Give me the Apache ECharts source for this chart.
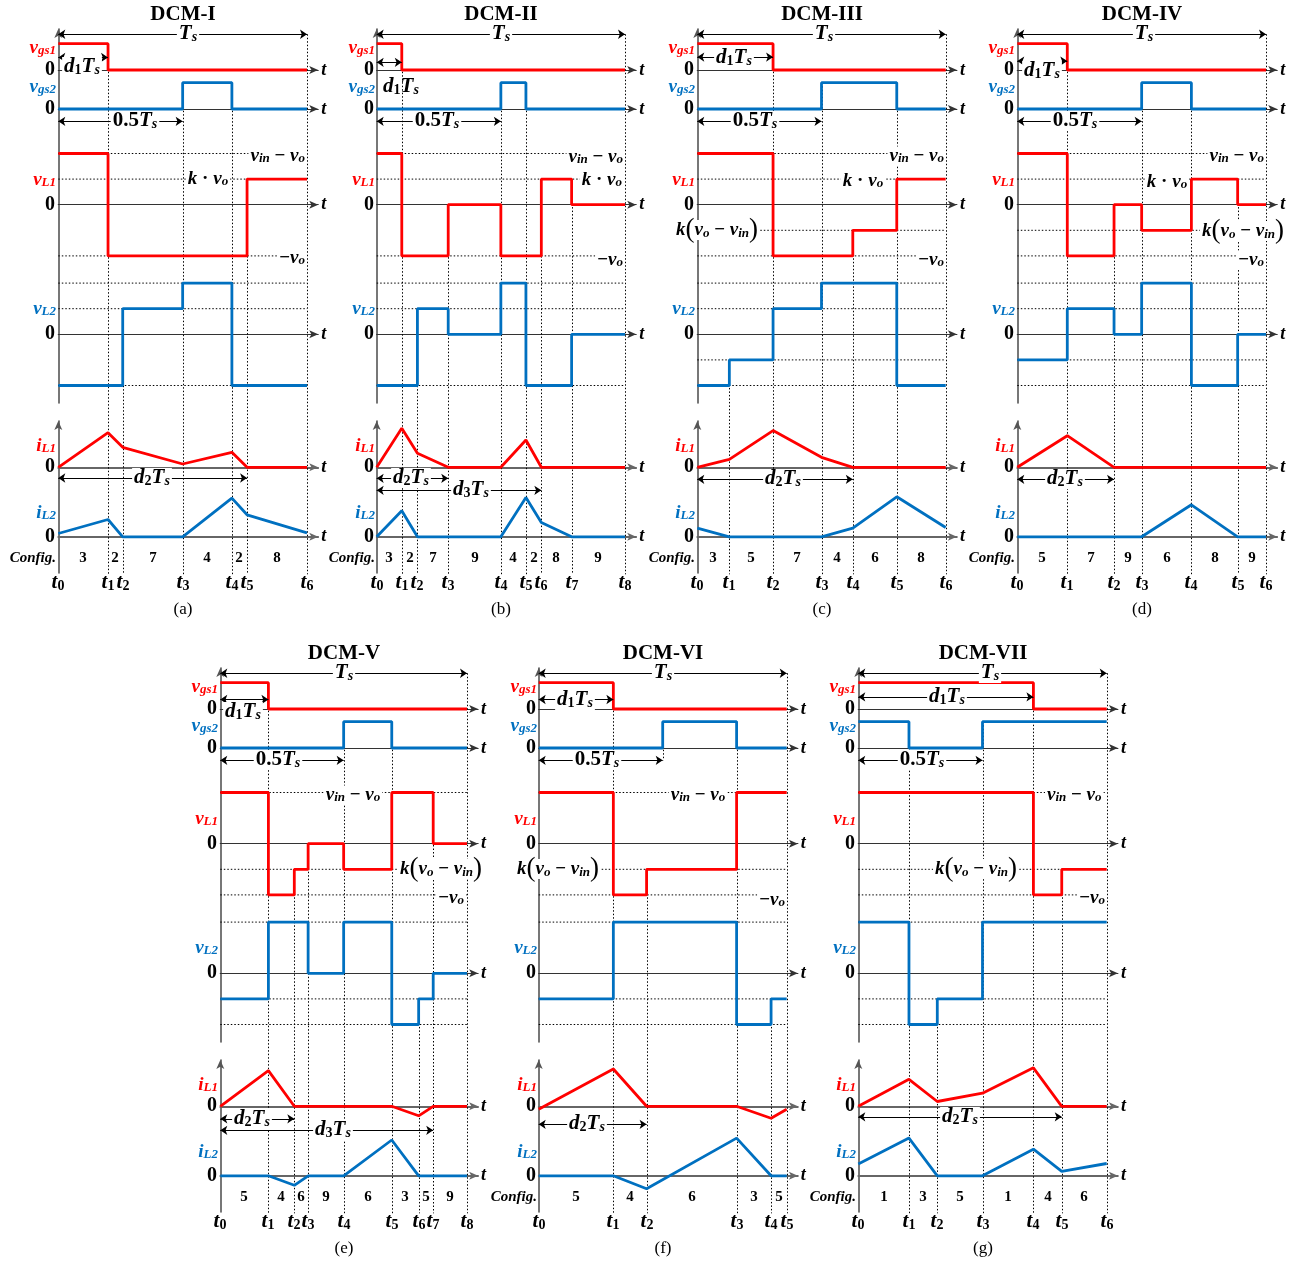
<!DOCTYPE html>
<html>
<head>
<meta charset="utf-8">
<script src="https://cdn.jsdelivr.net/npm/echarts@6/dist/echarts.min.js"></script>
<style>
html, body { margin: 0; padding: 0; background: #fff; }
#main { width: 1312px; height: 1263px; }
</style>
</head>
<body>
<div id="main"></div>
<script>
// panel names
const titles = ['DCM-I', 'DCM-II', 'DCM-III', 'DCM-IV', 'DCM-V', 'DCM-VI', 'DCM-VII'];
const tags = ['(a)', '(b)', '(c)', '(d)', '(e)', '(f)', '(g)'];

// time instants as fraction of Ts, gate on-intervals, inductor voltage levels per interval
// (2 = vin-vo, 1 = k*vo, -1 = k(vo-vin), -2 = -vo), currents at each instant, configs per interval
const tA = [0, 0.200, 0.259, 0.5, 0.698, 0.759, 1];
const gs1A = [[0, 0.200]];
const gs2A = [[0.5, 0.698]];
const vL1A = [2, -2, -2, -2, -2, 1];
const vL2A = [-2, -2, 1, 2, -2, -2];
const iL1A = [0, 3.46, 2.0, 0.33, 1.5, 0, 0];
const iL2A = [0.33, 1.73, 0, 0, 3.87, 2.2, 0.4];
const cfgA = [3, 2, 7, 4, 2, 8];

const tB = [0, 0.101, 0.164, 0.288, 0.5, 0.601, 0.663, 0.785, 1];
const gs1B = [[0, 0.101]];
const gs2B = [[0.5, 0.601]];
const vL1B = [2, -2, -2, 0, -2, -2, 1, 0];
const vL2B = [-2, -2, 1, 0, 2, -2, -2, 0];
const iL1B = [0, 3.9, 1.4, 0, 0, 2.73, 0, 0, 0];
const iL2B = [0, 2.6, 0, 0, 0, 3.93, 1.43, 0, 0];
const cfgB = [3, 2, 7, 9, 4, 2, 8, 9];

const tC = [0, 0.129, 0.305, 0.5, 0.626, 0.803, 1];
const gs1C = [[0, 0.305]];
const gs2C = [[0.5, 0.803]];
const vL1C = [2, 2, -2, -2, -1, 1];
const vL2C = [-2, -1, 1, 2, 2, -2];
const iL1C = [0, 0.8, 3.67, 1.0, 0, 0, 0];
const iL2C = [0.87, 0, 0, 0, 0.87, 4.0, 0.93];
const cfgC = [3, 5, 7, 4, 6, 8];

const tD = [0, 0.201, 0.389, 0.5, 0.700, 0.886, 1];
const gs1D = [[0, 0.201]];
const gs2D = [[0.5, 0.700]];
const vL1D = [2, -2, 0, -1, 1, 0];
const vL2D = [-1, 1, 0, 2, -2, 0];
const iL1D = [0, 3.16, 0, 0, 0, 0, 0];
const iL2D = [0, 0, 0, 0, 3.2, 0, 0];
const cfgD = [5, 7, 9, 6, 8, 9];

const tE = [0, 0.195, 0.300, 0.356, 0.5, 0.695, 0.804, 0.863, 1];
const gs1E = [[0, 0.195]];
const gs2E = [[0.5, 0.695]];
const vL1E = [2, -2, -1, 0, -1, 2, 2, 0];
const vL2E = [-1, 2, 2, 0, 2, -2, -1, 0];
const iL1E = [0, 3.57, 0, 0, 0, 0, -0.95, 0, 0];
const iL2E = [0, 0, -0.95, 0, 0, 3.58, 0, 0, 0];
const cfgE = [5, 4, 6, 9, 6, 3, 5, 9];

const tF = [0, 0.301, 0.435, 0.798, 0.937, 1];
const gs1F = [[0, 0.301]];
const gs2F = [[0.5, 0.798]];
const vL1F = [2, -2, -1, 2, 2];
const vL2F = [-1, 2, 2, -2, -1];
const iL1F = [-0.3, 3.73, 0, 0, -1.2, -0.3];
const iL2F = [0, 0, -1.3, 3.77, 0, 0];
const cfgF = [5, 4, 6, 3, 5];

const tG = [0, 0.204, 0.318, 0.5, 0.705, 0.819, 1];
const gs1G = [[0, 0.705]];
const gs2G = [[0, 0.204], [0.5, 1]];
const vL1G = [2, 2, 2, 2, -2, -1];
const vL2G = [2, -2, -1, 2, 2, 2];
const iL1G = [0, 2.7, 0.48, 1.31, 3.85, 0, 0];
const iL2G = [1.19, 3.77, 0, 0, 2.66, 0.44, 1.23];
const cfgG = [1, 3, 5, 1, 4, 6];

// ---- layout ----
const RED = '#ff0000', BLUE = '#0070c0';
const FF = '"Liberation Serif","Times New Roman",serif';
const XMAX = 1.045;
const ROW_DY = 639;
const TS_LVL = 1.36;
const HALF_LVL = -0.47;
const TRACE = {
  gs1: { zero: 70, unit: 26.3, min: -0.9, max: 1.45, color: RED },
  gs2: { zero: 109, unit: 26.3, min: -0.65, max: 1, color: BLUE },
  vL1: { zero: 204.7, unit: 25.6, min: -2, max: 2, color: RED },
  vL2: { zero: 334.3, unit: 25.6, min: -2, max: 2, color: BLUE },
  iL1: { zero: 467.3, unit: 10, min: -2.6, max: 4, color: RED },
  iL2: { zero: 536.8, unit: 10, min: -1.6, max: 4.2, color: BLUE }
};
const FRAMES = [[29, 403], [421, 573]];

const panels = [
  { x0: 58.3, w: 248.7, row: 0, t: tA, gs1: gs1A, gs2: gs2A, vL1: vL1A, vL2: vL2A, iL1: iL1A, iL2: iL2A, cfg: cfgA,
    d1: { lvl: 0.48, lx: 0.097, ly: 0.1, bg: true }, half: 0.31, ts: 0.52, cfgLabel: true,
    d2: { end: 5, lvl: -1.07, lx: 0.378 },
    notes: [['vin', 1, 1.92, 'right'], ['kvo', 0.6, 1.0, 'center'], ['mvo', 1, -2.1, 'right']] },
  { x0: 376.7, w: 248.3, row: 0, t: tB, gs1: gs1B, gs2: gs2B, vL1: vL1B, vL2: vL2B, iL1: iL1B, iL2: iL2B, cfg: cfgB,
    d1: { lvl: 0.29, lx: 0.098, ly: -0.65, bg: false }, half: 0.243, ts: 0.5, cfgLabel: true,
    d2: { end: 3, lvl: -1.1, lx: 0.138 }, d3: { end: 6, lvl: -2.3, lx: 0.38 },
    notes: [['vin', 1, 1.85, 'right'], ['kvo', 0.995, 0.95, 'right'], ['mvo', 1, -2.15, 'right']] },
  { x0: 697.3, w: 248.4, row: 0, t: tC, gs1: gs1C, gs2: gs2C, vL1: vL1C, vL2: vL2C, iL1: iL1C, iL2: iL2C, cfg: cfgC,
    d1: { lvl: 0.49, lx: 0.146, ly: 0.45, bg: true }, half: 0.232, ts: 0.51, cfgLabel: true,
    d2: { end: 4, lvl: -1.2, lx: 0.346 },
    notes: [['vin', 1, 1.92, 'right'], ['kvo', 0.667, 0.92, 'center'], ['kvin', 0.081, -1.0, 'center'], ['mvo', 1, -2.15, 'right']] },
  { x0: 1017.3, w: 248.7, row: 0, t: tD, gs1: gs1D, gs2: gs2D, vL1: vL1D, vL2: vL2D, iL1: iL1D, iL2: iL2D, cfg: cfgD,
    d1: { lvl: 0.34, lx: 0.098, ly: -0.05, bg: true }, half: 0.23, ts: 0.51, cfgLabel: true,
    d2: { end: 2, lvl: -1.2, lx: 0.19 },
    notes: [['vin', 1, 1.92, 'right'], ['kvo', 0.6, 0.9, 'center'], ['kvin', 0.736, -1.03, 'left'], ['mvo', 1, -2.15, 'right']] },
  { x0: 220.3, w: 246.7, row: 1, t: tE, gs1: gs1E, gs2: gs2E, vL1: vL1E, vL2: vL2E, iL1: iL1E, iL2: iL2E, cfg: cfgE,
    d1: { lvl: 0.36, lx: 0.093, ly: -0.11, bg: true }, half: 0.234, ts: 0.5, cfgLabel: false,
    d2: { end: 2, lvl: -1.25, lx: 0.13 }, d3: { end: 7, lvl: -2.4, lx: 0.457 },
    notes: [['vin', 0.537, 1.9, 'center'], ['kvin', 0.72, -1.0, 'left'], ['mvo', 0.995, -2.12, 'right']] },
  { x0: 538.7, w: 248, row: 1, t: tF, gs1: gs1F, gs2: gs2F, vL1: vL1F, vL2: vL2F, iL1: iL1F, iL2: iL2F, cfg: cfgF,
    d1: { lvl: 0.36, lx: 0.147, ly: 0.36, bg: true }, half: 0.235, ts: 0.5, cfgLabel: true,
    d2: { end: 2, lvl: -1.8, lx: 0.195 },
    notes: [['vin', 0.644, 1.9, 'center'], ['kvin', 0.078, -1.0, 'center'], ['mvo', 1, -2.2, 'right']] },
  { x0: 858.3, w: 248.4, row: 1, t: tG, gs1: gs1G, gs2: gs2G, vL1: vL1G, vL2: vL2G, iL1: iL1G, iL2: iL2G, cfg: cfgG,
    d1: { lvl: 0.46, lx: 0.356, ly: 0.46, bg: true }, half: 0.255, ts: 0.53, cfgLabel: true,
    d2: { end: 5, lvl: -1.05, lx: 0.409 },
    notes: [['vin', 0.752, 1.9, 'left'], ['kvin', 0.473, -1.0, 'center'], ['mvo', 1, -2.12, 'right']] }
];

// ---- rich text ----
const tok = (size, italic, bold, extra) => Object.assign({
  fontFamily: FF, fontSize: size, fontStyle: italic ? 'italic' : 'normal', fontWeight: bold ? 'bold' : 'normal'
}, extra || {});
const RICH = {
  i: tok(19, true, true, { lineHeight: 19 }),
  is: tok(13, true, true, { verticalAlign: 'bottom', lineHeight: 8 }),
  n: tok(19, false, true, { lineHeight: 19 }),
  I: tok(21, true, true, { lineHeight: 20 }),
  IS: tok(14, true, true, { verticalAlign: 'bottom', lineHeight: 9 }),
  N: tok(21, false, true, { lineHeight: 20 }),
  NS: tok(14, false, true, { verticalAlign: 'bottom', lineHeight: 9 }),
  p: tok(27, false, false, { lineHeight: 20 }),
  z: tok(20, false, true, { lineHeight: 20 }),
  t: tok(21, true, true, { lineHeight: 21 }),
  ts: tok(14, false, true, { verticalAlign: 'bottom', lineHeight: 9 }),
  c: tok(15, false, true),
  ci: tok(15, true, true),
  h: tok(21, false, true),
  g: tok(17, false, false)
};
const S = {
  gs1: '{i|v}{is|gs1}', gs2: '{i|v}{is|gs2}', vL1: '{i|v}{is|L1}', vL2: '{i|v}{is|L2}',
  iL1: '{i|i}{is|L1}', iL2: '{i|i}{is|L2}', zero: '{z|0}',
  Ts: '{I|T}{IS|s}', d1: '{I|d}{NS|1}{I|T}{IS|s}', d2: '{I|d}{NS|2}{I|T}{IS|s}', d3: '{I|d}{NS|3}{I|T}{IS|s}',
  half: '{N|0.5}{I|T}{IS|s}',
  vin: '{i|v}{is|in}{n| − }{i|v}{is|o}', kvo: '{i|k}{n| · }{i|v}{is|o}', mvo: '{n|−}{i|v}{is|o}',
  kvin: '{i|k}{p|(}{i|v}{is|o}{n| − }{i|v}{is|in}{p|)}'
};

// ---- builders ----
function steps(t, lv) {
  const d = [];
  lv.forEach((v, i) => { d.push([t[i], v], [t[i + 1], v]); });
  return d;
}
function pulses(on) {
  const d = [];
  let x = 0;
  on.forEach(([a, b]) => {
    if (a > x) d.push([x, 0], [a, 0]);
    d.push([a, 1], [b, 1]);
    x = b;
  });
  if (x < 1) d.push([x, 0], [1, 0]);
  return d;
}
function arrows(list) {
  return {
    silent: true, animation: false, symbol: ['arrow', 'arrow'], symbolSize: 7,
    label: { show: false }, emphasis: { disabled: true },
    lineStyle: { color: '#000', width: 1, type: 'solid' },
    data: list.map(([x1, lvl]) => [{ coord: [0, lvl] }, { coord: [x1, lvl] }])
  };
}

const grids = [], xAxes = [], yAxes = [], series = [];

panels.forEach((p, pi) => {
  const dy = p.row * ROW_DY;
  p.G = {};
  Object.keys(TRACE).forEach(k => {
    const tr = TRACE[k];
    const g = grids.length;
    const cur = k[0] === 'i';
    grids.push({ left: p.x0, top: tr.zero - tr.max * tr.unit + dy, width: p.w * XMAX, height: (tr.max - tr.min) * tr.unit });
    xAxes.push({
      gridIndex: g, type: 'value', min: 0, max: XMAX,
      axisLine: { show: true, onZero: true, symbol: ['none', 'arrow'], symbolSize: [6, 9],
        lineStyle: { color: cur ? '#666' : '#333', width: cur ? 1.8 : 1.2 } },
      axisTick: { show: false }, axisLabel: { show: false }, splitLine: { show: false },
      name: 't', nameLocation: 'end', nameGap: 3,
      nameTextStyle: { fontFamily: FF, fontSize: 18, fontStyle: 'italic', fontWeight: 'bold', color: '#000' }
    });
    yAxes.push({ gridIndex: g, type: 'value', min: tr.min, max: tr.max, show: false });
    p.G[k] = g;
  });
  FRAMES.forEach(([a, b]) => {
    const g = grids.length;
    grids.push({ left: p.x0, top: a + dy, width: p.w * XMAX, height: b - a });
    xAxes.push({ gridIndex: g, type: 'value', min: 0, max: XMAX, show: false });
    yAxes.push({
      gridIndex: g, type: 'value', min: 0, max: 1,
      axisLine: { show: true, onZero: false, symbol: ['none', 'arrow'], symbolSize: [6, 9], lineStyle: { color: '#555', width: 1.6 } },
      axisTick: { show: false }, axisLabel: { show: false }, splitLine: { show: false }
    });
  });

  const wave = (k, data, extra) => Object.assign({
    type: 'line', xAxisIndex: p.G[k], yAxisIndex: p.G[k], data, symbol: 'none', showSymbol: false,
    clip: false, z: 4, silent: true, animation: false,
    lineStyle: { color: TRACE[k].color, width: 2.8 }
  }, extra || {});

  series.push(wave('gs1', pulses(p.gs1), { markLine: arrows([[1, TS_LVL], [p.gs1[0][1], p.d1.lvl]]) }));
  series.push(wave('gs2', pulses(p.gs2), { markLine: arrows([[0.5, HALF_LVL]]) }));
  ['vL1', 'vL2'].forEach(k => {
    series.push(wave(k, steps(p.t, p[k])));
    [...new Set(p[k])].filter(v => v !== 0).forEach(v => {
      series.push({
        type: 'line', xAxisIndex: p.G[k], yAxisIndex: p.G[k], data: [[0, v], [1, v]], symbol: 'none',
        clip: false, z: 1, silent: true, animation: false,
        lineStyle: { color: '#000', width: 1, type: [1.5, 2] }
      });
    });
  });
  const arr = [[p.t[p.d2.end], p.d2.lvl]];
  if (p.d3) arr.push([p.t[p.d3.end], p.d3.lvl]);
  series.push(wave('iL1', p.t.map((x, i) => [x, p.iL1[i]]), { markLine: arrows(arr) }));
  series.push(wave('iL2', p.t.map((x, i) => [x, p.iL2[i]])));
});

const chart = echarts.init(document.getElementById('main'));
chart.setOption({
  animation: false,
  backgroundColor: '#fff',
  grid: grids, xAxis: xAxes, yAxis: yAxes, series
});

// ---- labels and guide lines, placed through the axes ----
const px = (g, x, y) => chart.convertToPixel({ gridIndex: g }, [x, y]);
const near = (a, b) => Math.abs(a - b) < 1e-6;
const els = [];
function txt(pt, text, o) {
  o = o || {};
  const style = {
    text, rich: RICH, fill: o.fill || '#000', align: o.align || 'center', verticalAlign: 'middle'
  };
  if (o.bg) { style.backgroundColor = '#fff'; style.padding = [0, 2]; }
  els.push({ type: 'text', x: Math.round(pt[0] + (o.dx || 0)), y: Math.round(pt[1]), z: 100, silent: true, style });
}
function vline(x, y1, y2) {
  const X = Math.round(x) + 0.5;
  els.push({ type: 'line', z: 1, silent: true, shape: { x1: X, y1, x2: X, y2 },
    style: { stroke: '#000', lineWidth: 1, lineDash: [1.5, 2] } });
}

panels.forEach((p, pi) => {
  const G = p.G;
  // dotted time markers
  const gsEdge = (on, x) => on.some(([a, b]) => (near(a, x) && a > 0) || (near(b, x) && b < 1));
  p.t.forEach((x, i) => {
    if (i === 0) return;
    let top;
    if (i === p.t.length - 1) top = px(G.gs1, x, TS_LVL)[1];
    else if (gsEdge(p.gs1, x)) top = px(G.gs1, x, 1)[1];
    else if (gsEdge(p.gs2, x)) top = px(G.gs2, x, 1)[1];
    else if (p.vL1[i - 1] !== p.vL1[i]) top = px(G.vL1, x, Math.max(p.vL1[i - 1], p.vL1[i]))[1];
    else if (p.vL2[i - 1] !== p.vL2[i]) top = px(G.vL2, x, Math.max(p.vL2[i - 1], p.vL2[i]))[1];
    else top = px(G.iL1, x, p.iL1[i])[1];
    vline(px(G.iL2, x, 0)[0], top, px(G.iL2, x, -3.75)[1]);
  });
  p.gs2.concat(p.gs1).forEach(([a, b]) => [a, b].forEach(e => {
    if (e > 0 && e < 1 && !p.t.some(x => near(x, e))) {
      vline(px(G.gs2, e, 0)[0], px(G.gs2, e, 1)[1], px(G.gs2, e, HALF_LVL)[1]);
    }
  }));

  // titles and tags
  txt(px(G.gs1, 0.5, 2.09), '{h|' + titles[pi] + '}');
  txt(px(G.iL2, 0.5, -7.3), '{g|' + tags[pi] + '}');

  // left trace labels
  const left = [['gs1', 0.84, RED], ['gs2', 0.84, BLUE], ['vL1', 0.95, RED], ['vL2', 1.0, BLUE], ['iL1', 2.1, RED], ['iL2', 2.35, BLUE]];
  left.forEach(([k, lvl, col]) => {
    txt(px(G[k], 0, lvl), S[k], { align: 'right', fill: col, dx: -2 });
    txt(px(G[k], 0, 0), S.zero, { align: 'right', dx: -3 });
  });

  // dimension labels
  txt(px(G.gs1, p.ts, TS_LVL), S.Ts, { bg: true });
  txt(px(G.gs1, p.d1.lx, p.d1.ly), S.d1, { bg: p.d1.bg });
  txt(px(G.gs2, p.half, HALF_LVL), S.half, { bg: true });
  txt(px(G.iL1, p.d2.lx, p.d2.lvl), S.d2, { bg: true });
  if (p.d3) txt(px(G.iL1, p.d3.lx, p.d3.lvl), S.d3, { bg: true });

  // level labels on vL1
  p.notes.forEach(([k, x, y, al]) => txt(px(G.vL1, x, y), S[k], { align: al, bg: true }));

  // configs and time labels
  if (p.cfgLabel) txt(px(G.iL2, 0, -2.1), '{ci|Config.}', { align: 'right', dx: -2 });
  p.cfg.forEach((c, i) => txt(px(G.iL2, (p.t[i] + p.t[i + 1]) / 2, -2.1), '{c|' + c + '}'));
  p.t.forEach((x, i) => txt(px(G.iL2, x, -4.6), '{t|t}{ts|' + i + '}'));
});

chart.setOption({ graphic: { elements: els } });
window.onresize = function () { chart.resize(); };
</script>
</body>
